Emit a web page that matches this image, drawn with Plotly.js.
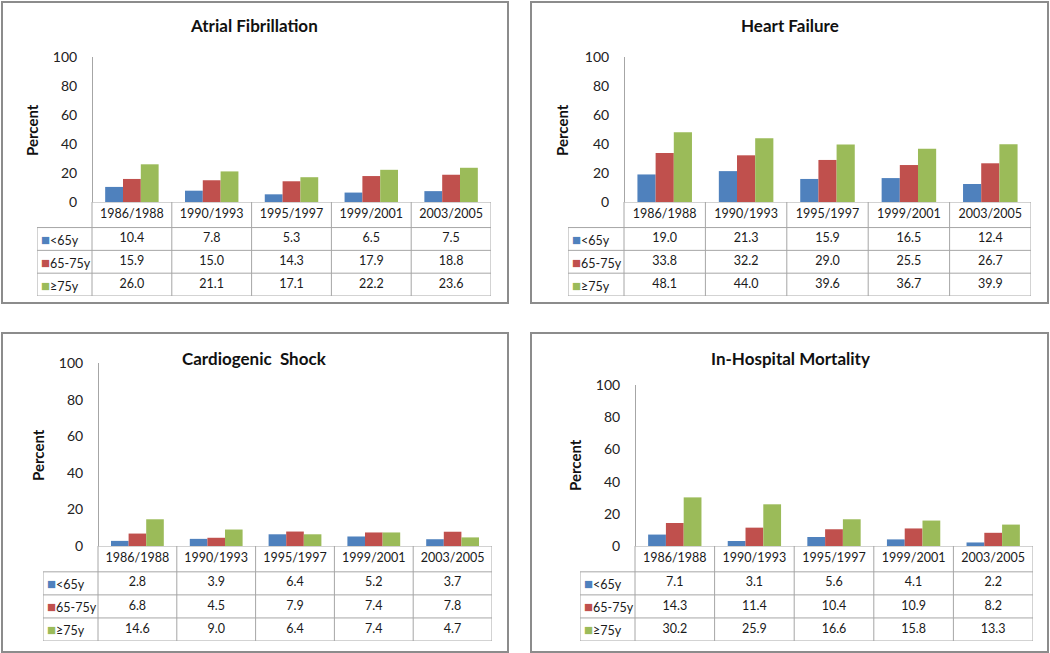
<!DOCTYPE html>
<html>
<head>
<meta charset="utf-8">
<script src="https://cdn.plot.ly/plotly-3.0.1.min.js"></script>
<style>
  body { margin: 0; background: #fff; }
  #myPlot { width: 1050px; height: 653px; }
</style>
</head>
<body>
<div id="myPlot"></div>
<script>
// categories and series
const periods = ['1986/1988', '1990/1993', '1995/1997', '1999/2001', '2003/2005'];
const ageGroups = ['<65y', '65-75y', '≥75y'];
const ageColors = ['#4F81BD', '#C0504D', '#9BBB59'];
const panelTitles = ['Atrial Fibrillation', 'Heart Failure', 'Cardiogenic\u00a0 Shock', 'In-Hospital Mortality'];

// one row per age group, one value per period
const atrialFib = [
    [10.4, 7.8, 5.3, 6.5, 7.5],
    [15.9, 15.0, 14.3, 17.9, 18.8],
    [26.0, 21.1, 17.1, 22.2, 23.6]
];
const heartFailure = [
    [19.0, 21.3, 15.9, 16.5, 12.4],
    [33.8, 32.2, 29.0, 25.5, 26.7],
    [48.1, 44.0, 39.6, 36.7, 39.9]
];
const cardioShock = [
    [2.8, 3.9, 6.4, 5.2, 3.7],
    [6.8, 4.5, 7.9, 7.4, 7.8],
    [14.6, 9.0, 6.4, 7.4, 4.7]
];
const mortality = [
    [7.1, 3.1, 5.6, 4.1, 2.2],
    [14.3, 11.4, 10.4, 10.9, 8.2],
    [30.2, 25.9, 16.6, 15.8, 13.3]
];
const panelValues = [atrialFib, heartFailure, cardioShock, mortality];

const W = 1050;
const H = 653;
const FONT = 'Lato, "Open Sans", sans-serif';
const GRID = '#a6a6a6';
const HEADER_TOP = -0.62; // header row a little taller than the value rows

// pixel geometry of each panel (box, plot, table)
const panels = [
    { box: [2, 2, 508, 303], titleX: 254, titleY: 26, left: 37, yLine: 92, right: 491, top: 57, axisY: 202, bottom: 296, labelX: 32, labelY: 130 },
    { box: [531, 2, 1048, 303], titleX: 790, titleY: 26, left: 568, yLine: 624, right: 1031, top: 57, axisY: 202, bottom: 296, labelX: 562, labelY: 130 },
    { box: [2, 333, 508, 652], titleX: 254, titleY: 358, left: 43, yLine: 98, right: 492, top: 363, axisY: 546, bottom: 641, labelX: 38, labelY: 455 },
    { box: [531, 333, 1048, 652], titleX: 790, titleY: 358, left: 580, yLine: 635, right: 1033, top: 385, axisY: 546, bottom: 641, labelX: 575, labelY: 465 }
];

function px(x) { return x / W; }
function py(y) { return 1 - y / H; }

function escapeText(s) {
    return s.replace(/&/g, '&amp;').replace(/</g, '&lt;').replace(/>/g, '&gt;');
}

function buildPanel(i, traces, layout) {
    const p = panels[i];
    const values = panelValues[i];
    const xKey = i === 0 ? 'x' : 'x' + (i + 1);
    const barY = 2 * i + 1;
    const tabY = 2 * i + 2;
    const barKey = barY === 1 ? 'y' : 'y' + barY;
    const tabKey = 'y' + tabY;

    const catW = (p.right - p.yLine) / periods.length;
    const xStart = -0.5 - (p.yLine - p.left) / catW;
    const xEnd = periods.length - 0.5;
    const rowEnd = ageGroups.length + 0.5;

    layout['xaxis' + (i === 0 ? '' : i + 1)] = {
        domain: [px(p.left), px(p.right)],
        type: 'category',
        categoryarray: periods,
        range: [xStart, xEnd],
        visible: false,
        anchor: barKey
    };
    layout['yaxis' + (barY === 1 ? '' : barY)] = {
        domain: [py(p.axisY), py(p.top)],
        range: [0, 100],
        dtick: 20,
        anchor: 'free',
        position: px(p.yLine),
        showline: true,
        linecolor: GRID,
        linewidth: 1,
        showgrid: false,
        zeroline: false,
        ticks: '',
        ticklabelstandoff: 12,
        tickfont: { family: FONT, size: 14, color: '#222' }
    };
    layout['yaxis' + tabY] = {
        domain: [py(p.bottom), py(p.axisY)],
        range: [rowEnd, HEADER_TOP],
        visible: false,
        anchor: xKey
    };

    // bars
    for (let g = 0; g < ageGroups.length; g++) {
        traces.push({
            type: 'bar',
            x: periods,
            y: values[g],
            name: ageGroups[g],
            marker: { color: ageColors[g] },
            xaxis: xKey,
            yaxis: barKey,
            showlegend: false,
            hoverinfo: 'skip'
        });
    }

    // table cells: header row then one row per age group
    let cx = [];
    let cy = [];
    let ct = [];
    for (let c = 0; c < periods.length; c++) {
        cx.push(periods[c]);
        cy.push((HEADER_TOP + 0.5) / 2);
        ct.push(periods[c]);
        for (let g = 0; g < ageGroups.length; g++) {
            cx.push(periods[c]);
            cy.push(g + 1);
            ct.push(values[g][c].toFixed(1));
        }
    }
    traces.push({
        type: 'scatter',
        mode: 'text',
        x: cx,
        y: cy,
        text: ct,
        textposition: 'middle center',
        textfont: { family: FONT, size: 12.5, color: '#1a1a1a' },
        xaxis: xKey,
        yaxis: tabKey,
        showlegend: false,
        hoverinfo: 'skip',
        cliponaxis: false
    });

    // legend column
    for (let g = 0; g < ageGroups.length; g++) {
        layout.annotations.push({
            xref: xKey, yref: tabKey,
            x: xStart + 0.03, y: g + 1,
            xanchor: 'left', yanchor: 'middle',
            showarrow: false,
            text: '<span style="color:' + ageColors[g] + ';font-size:15px">■</span>' + escapeText(ageGroups[g]),
            font: { family: FONT, size: 12.5, color: '#1a1a1a' }
        });
    }

    // table grid
    const line = { color: GRID, width: 1 };
    layout.shapes.push({ type: 'line', xref: xKey, yref: tabKey, x0: -0.5, x1: xEnd, y0: HEADER_TOP, y1: HEADER_TOP, line: line });
    for (let r = 0; r <= ageGroups.length; r++) {
        layout.shapes.push({ type: 'line', xref: xKey, yref: tabKey, x0: xStart, x1: xEnd, y0: r + 0.5, y1: r + 0.5, line: line });
    }
    layout.shapes.push({ type: 'line', xref: xKey, yref: tabKey, x0: xStart, x1: xStart, y0: 0.5, y1: rowEnd, line: line });
    for (let c = 0; c <= periods.length; c++) {
        layout.shapes.push({ type: 'line', xref: xKey, yref: tabKey, x0: c - 0.5, x1: c - 0.5, y0: HEADER_TOP, y1: rowEnd, line: line });
    }

    // panel frame
    layout.shapes.push({
        type: 'rect', xref: 'paper', yref: 'paper', layer: 'below',
        x0: px(p.box[0]), x1: px(p.box[2]), y0: py(p.box[3]), y1: py(p.box[1]),
        line: { color: '#8c8c8c', width: 2 }
    });

    // title and axis label
    layout.annotations.push({
        xref: 'paper', yref: 'paper', x: px(p.titleX), y: py(p.titleY),
        xanchor: 'center', yanchor: 'middle', showarrow: false,
        text: panelTitles[i],
        font: { family: FONT, size: 17, color: '#111', weight: 'bold' }
    });
    layout.annotations.push({
        xref: 'paper', yref: 'paper', x: px(p.labelX), y: py(p.labelY),
        xanchor: 'center', yanchor: 'middle', showarrow: false,
        textangle: -90,
        text: 'Percent',
        font: { family: FONT, size: 15, color: '#111', weight: 'bold' }
    });
}

function renderChart() {
    let traces = [];
    let layout = {
        width: W,
        height: H,
        margin: { l: 0, r: 0, t: 0, b: 0 },
        paper_bgcolor: '#fff',
        plot_bgcolor: 'rgba(0,0,0,0)',
        barmode: 'group',
        bargap: 0.33,
        bargroupgap: 0,
        showlegend: false,
        annotations: [],
        shapes: []
    };
    for (let i = 0; i < panels.length; i++) {
        buildPanel(i, traces, layout);
    }
    Plotly.newPlot('myPlot', traces, layout, { staticPlot: true });
}

renderChart();
</script>
</body>
</html>
